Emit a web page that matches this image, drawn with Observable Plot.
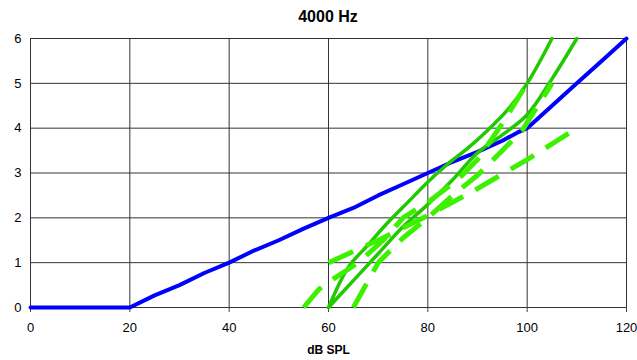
<!DOCTYPE html>
<html>
<head>
<meta charset="utf-8">
<script src="https://cdn.jsdelivr.net/npm/d3@7"></script>
<script src="https://cdn.jsdelivr.net/npm/@observablehq/plot@0.6"></script>
<style>
  body { margin: 0; background: #fff; }
  #title { font-family: "Liberation Sans", Arial, sans-serif; font-weight: bold; font-size: 16px;
           height: 30px; line-height: 30px; box-sizing: border-box; padding-top: 2px;
           width: 637px; padding-left: 19px; text-align: center; }
</style>
</head>
<body>
<div id="title">4000 Hz</div>
<div id="chart"></div>
<script>
const xTicks = [0, 20, 40, 60, 80, 100, 120];
const yTicks = [0, 1, 2, 3, 4, 5, 6];

// Normal loudness (blue)
const normalX = [0, 20, 25, 30, 35, 40, 45, 50, 55, 60, 65, 70, 75, 80, 85, 90, 95, 98, 100, 105, 110, 115, 120];
const normalY = [0, 0, 0.27, 0.5, 0.77, 1.0, 1.27, 1.5, 1.76, 2.0, 2.22, 2.5, 2.75, 3.0, 3.25, 3.47, 3.72, 3.9, 4.0, 4.5, 5.0, 5.5, 6.0];

// Solid green series
const solid1X = [60, 64, 68, 72, 76, 80, 84, 88, 92, 96, 100, 105];
const solid1Y = [0, 0.9, 1.4, 1.9, 2.35, 2.8, 3.2, 3.55, 3.95, 4.4, 5.0, 6.0];
const solid2X = [60, 65, 70, 75, 80, 85, 90, 95, 100, 105, 110];
const solid2Y = [0, 0.6, 1.2, 1.8, 2.3, 2.85, 3.45, 3.85, 4.3, 5.1, 6.0];

// Dashed green series
const dash1X = [60, 70, 80, 90, 100, 110];
const dash1Y = [1.0, 1.5, 2.05, 2.65, 3.3, 4.0];
const dash2X = [55, 58, 61, 66, 71, 75, 80, 86, 90, 95, 100];
const dash2Y = [0, 0.4, 0.64, 1.0, 1.5, 2.0, 2.35, 2.85, 3.3, 4.1, 5.0];
const dash3X = [65, 70, 75, 80, 85, 90, 95, 99, 105];
const dash3Y = [0, 1.0, 1.55, 2.0, 2.5, 2.95, 3.5, 3.95, 5.0];

const zip = (xs, ys) => xs.map((x, i) => ({x, y: ys[i]}));

const solidColor = "#22c800";
const dashColor = "#3cf000";

const chart = Plot.plot({
  width: 637,
  height: 330,
  marginTop: 8,
  marginLeft: 30,
  marginRight: 11,
  marginBottom: 53,
  style: { fontFamily: "'Liberation Sans', Arial, sans-serif", fontSize: "13px", color: "#000", background: "#fff" },
  x: { domain: [0, 120], label: null },
  y: { domain: [0, 6], label: null },
  marks: [
    Plot.gridX(xTicks, { stroke: "#333", strokeOpacity: 1, strokeWidth: 1 }),
    Plot.gridY(yTicks, { stroke: "#333", strokeOpacity: 1, strokeWidth: 1 }),
    Plot.axisX(xTicks, { tickSize: 5, tickPadding: 10, fontSize: 13, label: null, stroke: "#444" }),
    Plot.axisY(yTicks, { tickSize: 0, tickPadding: 9, fontSize: 13, label: null }),
    Plot.line(zip(normalX, normalY), { x: "x", y: "y", stroke: "#0000ff", strokeWidth: 4 }),
    Plot.line(zip(solid1X, solid1Y), { x: "x", y: "y", stroke: solidColor, strokeWidth: 3.5, curve: "catmull-rom" }),
    Plot.line(zip(solid2X, solid2Y), { x: "x", y: "y", stroke: solidColor, strokeWidth: 3.5, curve: "catmull-rom" }),
    Plot.line(zip(dash1X, dash1Y), { x: "x", y: "y", stroke: dashColor, strokeWidth: 5, strokeDasharray: "27,14", strokeLinecap: "butt" }),
    Plot.line(zip(dash2X, dash2Y), { x: "x", y: "y", stroke: dashColor, strokeWidth: 5, strokeDasharray: "27,14", strokeLinecap: "butt" }),
    Plot.line(zip(dash3X, dash3Y), { x: "x", y: "y", stroke: dashColor, strokeWidth: 5, strokeDasharray: "27,14", strokeLinecap: "butt" }),
    Plot.text(["dB SPL"], { frameAnchor: "bottom", dy: 46, fontWeight: "bold", fontSize: 12 })
  ]
});
document.getElementById("chart").appendChild(chart);
</script>
</body>
</html>
